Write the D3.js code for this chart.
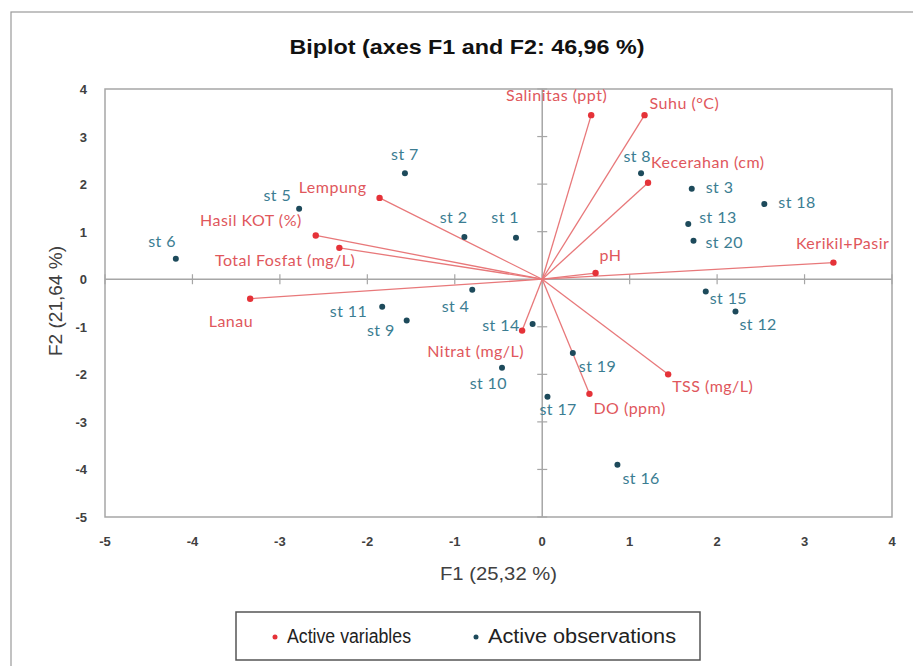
<!DOCTYPE html>
<html>
<head>
<meta charset="utf-8">
<script src="https://cdn.jsdelivr.net/npm/d3@7"></script>
<style>
  body { margin: 0; background: #fff; }
  svg { display: block; }
</style>
</head>
<body>
<div class="chart"></div>
<script>
// Active variables (loadings scaled to plot)
var varNames = ["Salinitas (ppt)", "Suhu (°C)", "Kecerahan (cm)", "pH", "Kerikil+Pasir",
    "TSS (mg/L)", "DO (ppm)", "Nitrat (mg/L)", "Lanau", "Total Fosfat (mg/L)", "Hasil KOT (%)", "Lempung"];
var varF1 = [0.56, 1.17, 1.21, 0.61, 3.33, 1.44, 0.54, -0.23, -3.34, -2.32, -2.59, -1.86];
var varF2 = [3.45, 3.45, 2.03, 0.13, 0.35, -2.00, -2.41, -1.08, -0.41, 0.66, 0.92, 1.71];

// Active observations
var obsNames = ["st 1", "st 2", "st 3", "st 4", "st 5", "st 6", "st 7", "st 8", "st 9", "st 10",
    "st 11", "st 12", "st 13", "st 14", "st 15", "st 16", "st 17", "st 18", "st 19", "st 20"];
var obsF1 = [-0.30, -0.89, 1.71, -0.80, -2.78, -4.19, -1.57, 1.13, -1.55, -0.46,
    -1.83, 2.21, 1.67, -0.11, 1.87, 0.86, 0.06, 2.54, 0.35, 1.73];
var obsF2 = [0.87, 0.89, 1.90, -0.22, 1.48, 0.43, 2.23, 2.23, -0.87, -1.86,
    -0.58, -0.68, 1.16, -0.94, -0.26, -3.90, -2.47, 1.58, -1.55, 0.81];

var xTicks = [-5, -4, -3, -2, -1, 0, 1, 2, 3, 4];
var yTicks = [-5, -4, -3, -2, -1, 0, 1, 2, 3, 4];

// label placement: [text-anchor, dx, dy] relative to the dot
var varLabelPos = [["end", 16, -14], ["start", 5, -6], ["start", 3, -15], ["start", 4, -12],
    ["end", 56, -14], ["start", 4, 18], ["start", 4, 20], ["end", 2, 26], ["end", 3, 28],
    ["end", 16, 18], ["end", -14, -9], ["end", -13, -5]];
var obsLabelPos = [["end", 3, -15], ["end", 3, -14], ["start", 14, 4], ["end", -3, 22],
    ["end", -8, -8], ["end", 0, -12], ["middle", 0, -13], ["end", 10, -11], ["end", -12, 15],
    ["end", 5, 21], ["end", -15, 10], ["start", 4, 18], ["start", 11, -1], ["end", -13, 7],
    ["start", 4, 12], ["start", 5, 19], ["start", -8, 18], ["start", 14, 4], ["start", 6, 19],
    ["start", 12, 7]];

var width = 913, height = 666;
var margin = {top: 89, right: 21, bottom: 149, left: 105};

var svg = d3.select("div.chart")
    .append("svg")
    .attr("width", width)
    .attr("height", height);

// outer frame
svg.append("rect")
    .attr("x", 11).attr("y", 12)
    .attr("width", 1000).attr("height", 1000)
    .style("fill", "none")
    .style("stroke", "#9a9a9a")
    .style("stroke-width", 1.2);

var x = d3.scaleLinear().domain([-5, 4]).range([margin.left, width - margin.right]);
var y = d3.scaleLinear().domain([-5, 4]).range([height - margin.bottom, margin.top]);

// Title
svg.append("text")
    .attr("x", 467).attr("y", 54)
    .attr("text-anchor", "middle")
    .attr("textLength", 355)
    .attr("lengthAdjust", "spacingAndGlyphs")
    .style("font-family", "'Liberation Sans', Arial, sans-serif")
    .style("font-weight", "bold")
    .style("font-size", "20px")
    .style("fill", "#111")
    .text("Biplot (axes F1 and F2: 46,96 %)");

// plot box
svg.append("rect")
    .attr("x", x(-5)).attr("y", y(4))
    .attr("width", x(4) - x(-5)).attr("height", y(-5) - y(4))
    .style("fill", "none")
    .style("stroke", "#a6a6a6")
    .style("stroke-width", 1.5);

// zero lines
var axisColor = "#a6a6a6";
svg.append("line")
    .attr("x1", x(-5)).attr("x2", x(4)).attr("y1", y(0)).attr("y2", y(0))
    .style("stroke", axisColor).style("stroke-width", 1.5);
svg.append("line")
    .attr("x1", x(0)).attr("x2", x(0)).attr("y1", y(-5)).attr("y2", y(4))
    .style("stroke", axisColor).style("stroke-width", 1.5);

// cross ticks on the zero lines
svg.selectAll("line.ytick")
    .data(yTicks)
    .enter().append("line")
    .attr("class", "ytick")
    .attr("x1", x(0) - 5).attr("x2", x(0) + 5)
    .attr("y1", function (d) { return y(d); })
    .attr("y2", function (d) { return y(d); })
    .style("stroke", axisColor).style("stroke-width", 1.2);
svg.selectAll("line.xtick")
    .data(xTicks)
    .enter().append("line")
    .attr("class", "xtick")
    .attr("y1", y(0) - 5).attr("y2", y(0) + 5)
    .attr("x1", function (d) { return x(d); })
    .attr("x2", function (d) { return x(d); })
    .style("stroke", axisColor).style("stroke-width", 1.2);

// tick labels
var tickFont = "'Liberation Sans', Arial, sans-serif";
svg.selectAll("text.xlab")
    .data(xTicks)
    .enter().append("text")
    .attr("class", "xlab")
    .attr("x", function (d) { return x(d); })
    .attr("y", y(-5) + 29)
    .attr("text-anchor", "middle")
    .style("font-family", tickFont)
    .style("font-weight", "bold")
    .style("font-size", "13px")
    .style("fill", "#404040")
    .text(function (d) { return d; });
svg.selectAll("text.ylab")
    .data(yTicks)
    .enter().append("text")
    .attr("class", "ylab")
    .attr("x", x(-5) - 18)
    .attr("y", function (d) { return y(d) + 5; })
    .attr("text-anchor", "end")
    .style("font-family", tickFont)
    .style("font-weight", "bold")
    .style("font-size", "13px")
    .style("fill", "#404040")
    .text(function (d) { return d; });

// axis titles
svg.append("text")
    .attr("x", (x(-5) + x(4)) / 2).attr("y", 580)
    .attr("text-anchor", "middle")
    .attr("textLength", 117)
    .attr("lengthAdjust", "spacingAndGlyphs")
    .style("font-family", "'Liberation Sans', Arial, sans-serif")
    .style("font-size", "18px")
    .style("fill", "#404040")
    .text("F1 (25,32 %)");
svg.append("text")
    .attr("transform", "translate(62," + 301 + ") rotate(-90)")
    .attr("text-anchor", "middle")
    .attr("textLength", 110)
    .attr("lengthAdjust", "spacingAndGlyphs")
    .style("font-family", "'Liberation Sans', Arial, sans-serif")
    .style("font-size", "18px")
    .style("fill", "#404040")
    .text("F2 (21,64 %)");

var variables = varNames.map(function (n, i) {
    return {name: n, f1: varF1[i], f2: varF2[i], pos: varLabelPos[i]};
});
var observations = obsNames.map(function (n, i) {
    return {name: n, f1: obsF1[i], f2: obsF2[i], pos: obsLabelPos[i]};
});

var redLine = "#e8787a", redDot = "#e53238", redText = "#e0575c";
var blueDot = "#1d4a5b", blueText = "#3b7d92";
var labelFont = "Lato, 'Open Sans', sans-serif";

// vectors from origin
svg.selectAll("line.vector")
    .data(variables)
    .enter().append("line")
    .attr("class", "vector")
    .attr("x1", x(0)).attr("y1", y(0))
    .attr("x2", function (d) { return x(d.f1); })
    .attr("y2", function (d) { return y(d.f2); })
    .style("stroke", redLine)
    .style("stroke-width", 1.3);

// observation points
svg.selectAll("circle.obs")
    .data(observations)
    .enter().append("circle")
    .attr("class", "obs")
    .attr("cx", function (d) { return x(d.f1); })
    .attr("cy", function (d) { return y(d.f2); })
    .attr("r", 3)
    .style("fill", blueDot);

svg.selectAll("text.obs")
    .data(observations)
    .enter().append("text")
    .attr("class", "obs")
    .attr("x", function (d) { return x(d.f1) + d.pos[1]; })
    .attr("y", function (d) { return y(d.f2) + d.pos[2]; })
    .attr("text-anchor", function (d) { return d.pos[0]; })
    .style("font-family", labelFont)
    .style("font-size", "16px")
    .style("letter-spacing", "0.4px")
    .style("fill", blueText)
    .text(function (d) { return d.name; });

// variable points
svg.selectAll("circle.var")
    .data(variables)
    .enter().append("circle")
    .attr("class", "var")
    .attr("cx", function (d) { return x(d.f1); })
    .attr("cy", function (d) { return y(d.f2); })
    .attr("r", 3.2)
    .style("fill", redDot);

svg.selectAll("text.var")
    .data(variables)
    .enter().append("text")
    .attr("class", "var")
    .attr("x", function (d) { return x(d.f1) + d.pos[1]; })
    .attr("y", function (d) { return y(d.f2) + d.pos[2]; })
    .attr("text-anchor", function (d) { return d.pos[0]; })
    .style("font-family", labelFont)
    .style("font-size", "16px")
    .style("letter-spacing", "0.5px")
    .style("fill", redText)
    .text(function (d) { return d.name; });

// Legend
var legend = svg.append("g").attr("transform", "translate(236,612)");
legend.append("rect")
    .attr("width", 464).attr("height", 48)
    .style("fill", "#fff")
    .style("stroke", "#555")
    .style("stroke-width", 1.5);
var legendItems = [{label: "Active variables", color: redDot, x: 39, w: 124},
    {label: "Active observations", color: blueDot, x: 240, w: 188}];
legendItems.forEach(function (item) {
    legend.append("circle")
        .attr("cx", item.x).attr("cy", 25).attr("r", 2.5)
        .style("fill", item.color);
    legend.append("text")
        .attr("x", item.x + 12).attr("y", 31)
        .attr("textLength", item.w)
        .attr("lengthAdjust", "spacingAndGlyphs")
        .style("font-family", "'Liberation Sans', Arial, sans-serif")
        .style("font-size", "20px")
        .style("fill", "#222")
        .text(item.label);
});
</script>
</body>
</html>
